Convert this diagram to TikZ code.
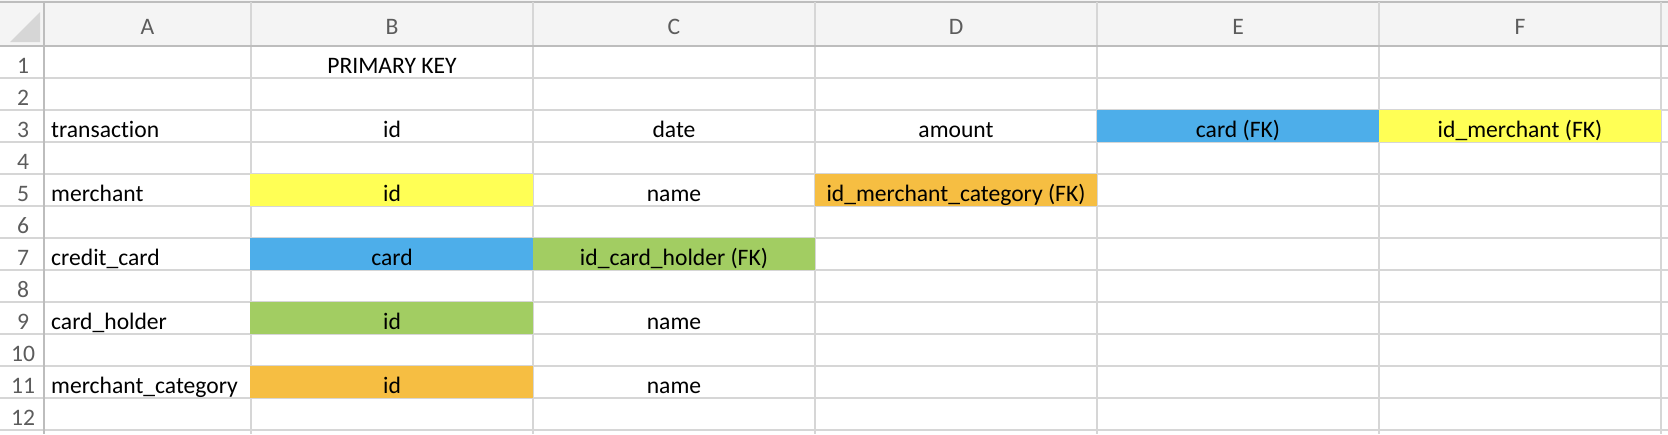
\documentclass[tikz,border=0pt]{standalone}
\usepackage{fontspec}
\setmainfont[RawFeature={-liga}]{Carlito}
\usepackage{xcolor}
\usetikzlibrary{positioning}

\definecolor{gridgray}{HTML}{D6D6D6}
\definecolor{headline}{HTML}{BDBDBD}
\definecolor{headfill}{HTML}{F4F4F4}
\definecolor{headtext}{HTML}{5C5C5C}
\definecolor{cardblue}{HTML}{4DAEEA}
\definecolor{merchyellow}{HTML}{FFFF55}
\definecolor{holdergreen}{HTML}{A2CD62}
\definecolor{catorange}{HTML}{F6BE42}

\tikzset{
  celltext/.style={anchor=base, inner sep=0pt, font=\fontsize{23.6}{28}\selectfont},
  tabletext/.style={celltext, anchor=base west},
  headtext/.style={celltext, text=headtext},
}

\begin{document}
\begin{tikzpicture}[x=1pt,y=-1pt]
\useasboundingbox (0,0) rectangle (1668,434);
\fill[white] (0,0) rectangle (1668,434);

% header band
\fill[headfill] (0,0) rectangle (1668,46);
\draw[headline, line width=1.2pt] (0,2) -- (1668,2);
\fill[gridgray] (40,12) -- (40,42) -- (10,42) -- cycle;

% grid
\foreach \k in {1,...,12}
  \draw[gridgray, line width=1.3pt] (0,46+32*\k) -- (1668,46+32*\k);
\foreach \x in {251,533,815,1097,1379,1661}
  \draw[gridgray, line width=1.3pt] (\x,2) -- (\x,434);

% coloured cells
\fill[cardblue] (1097,110) rectangle (1379,142);
\fill[merchyellow] (1379,110) rectangle (1661,142);
\fill[merchyellow] (250,174) rectangle (533,206);
\fill[catorange] (815,174) rectangle (1097,206);
\fill[cardblue] (250,238) rectangle (533,270);
\fill[holdergreen] (533,238) rectangle (815,270);
\fill[holdergreen] (250,302) rectangle (533,334);
\fill[catorange] (250,366) rectangle (533,398);

\draw[headline, line width=2pt] (0,46) -- (1668,46);
\draw[headline, line width=2pt] (44,2) -- (44,434);

% column letters
\foreach \c/\x in {A/147.5,B/392,C/674,D/956,E/1238,F/1520}
  \node[headtext] (col\c) at (\x,34) {\c};

% row numbers
\foreach \r in {1,...,12}
  \node[headtext] (row\r) at (23,46+32*\r-5) {\r};

% table names
\node[tabletext] (transaction) at (51,137) {transaction};
\node[tabletext] (merchant) at (51,201) {merchant};
\node[tabletext] (creditcard) at (51,265) {credit\_card};
\node[tabletext] (cardholder) at (51,329) {card\_holder};
\node[tabletext] (merchcat) at (51,393) {merchant\_category};

% fields
\node[celltext] (pkey) at (392,73) {PRIMARY KEY};

\node[celltext] (trid) at (392,137) {id};
\node[celltext] (trdate) at (674,137) {date};
\node[celltext] (tramount) at (956,137) {amount};
\node[celltext] (trcard) at (1238,137) {card (FK)};
\node[celltext] (trmerch) at (1520,137) {id\_merchant (FK)};

\node[celltext] (meid) at (392,201) {id};
\node[celltext] (mename) at (674,201) {name};
\node[celltext] (mecat) at (956,201) {id\_merchant\_category (FK)};

\node[celltext] (cccard) at (392,265) {card};
\node[celltext] (ccholder) at (674,265) {id\_card\_holder (FK)};

\node[celltext] (chid) at (392,329) {id};
\node[celltext] (chname) at (674,329) {name};

\node[celltext] (mcid) at (392,393) {id};
\node[celltext] (mcname) at (674,393) {name};

\end{tikzpicture}
\end{document}
